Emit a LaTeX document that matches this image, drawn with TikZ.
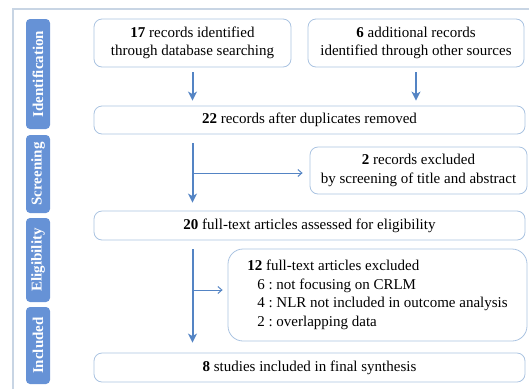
\documentclass[tikz,border=0pt]{standalone}
\usepackage{fontspec}
\setmainfont{Liberation Serif}
\usetikzlibrary{arrows.meta}
\definecolor{mblue}{RGB}{84,132,196}
\definecolor{sblue}{RGB}{102,146,214}
\definecolor{bord}{RGB}{170,195,225}
\definecolor{frame}{RGB}{200,213,228}
\tikzset{
  x=1pt,y=-1pt,
  box/.style={draw=bord,line width=0.8pt,rounded corners=8pt,align=center,inner sep=0pt,
    font=\fontsize{15pt}{18.5pt}\selectfont},
  side/.style={fill=sblue,rounded corners=4pt,text=white,rotate=90,inner sep=0pt,
    font=\fontsize{15pt}{17pt}\selectfont\bfseries},
  mainarrow/.style={draw=mblue,line width=2pt,-{Stealth[length=9pt,width=9pt,inset=2.5pt]}},
  sidearrow/.style={draw=mblue,line width=1pt,-{Straight Barb[length=4pt,width=7pt]}}
}
\begin{document}
\begin{tikzpicture}
\frenchspacing
\useasboundingbox (0,0) rectangle (529,389);
\draw[frame,line width=1.5pt] (13,389) -- (13,9) -- (529,9);
% side labels
\node[side,minimum width=110pt,minimum height=24pt] (sid) at (38,74) {Identification};
\node[side,minimum width=78pt,minimum height=24pt] (sscr) at (38,174) {Screening};
\node[side,minimum width=84pt,minimum height=24pt] (selg) at (38,260) {Eligibility};
\node[side,minimum width=77pt,minimum height=24pt] (sinc) at (38,345.5) {Included};
% boxes
\node[box,minimum width=197pt,minimum height=48pt] (b17) at (192.5,43) {\textbf{17} records identified\\through database searching};
\node[box,minimum width=216pt,minimum height=48pt] (b6) at (416,43) {\textbf{6} additional records\\identified through other sources};
\node[box,minimum width=431pt,minimum height=28pt] (b22) at (309.5,120) {\textbf{22} records after duplicates removed};
\node[box,minimum width=217pt,minimum height=47pt] (b2) at (418.5,170.5) {\textbf{2} records excluded\\by screening of title and abstract};
\node[box,minimum width=431pt,minimum height=29pt] (b20) at (309.5,225.5) {\textbf{20} full-text articles assessed for eligibility};
\node[box,rounded corners=15pt,minimum width=299pt,minimum height=92pt,align=left] (b12) at (377.5,295)
  {\textbf{12} full-text articles excluded\\
   \hspace*{10pt}6 : not focusing on CRLM\\
   \hspace*{10pt}4 : NLR not included in outcome analysis\\
   \hspace*{10pt}2 : overlapping data};
\node[box,minimum width=431pt,minimum height=29pt] (b8) at (309.5,367.5) {\textbf{8} studies included in final synthesis};
% arrows
\draw[mainarrow,shorten <=5pt,shorten >=5pt] (b17.south) -- (b17.south |- b22.north);
\draw[mainarrow,shorten <=5pt,shorten >=5pt] (b6.south) -- (b6.south |- b22.north);
\draw[mainarrow,shorten <=9pt,shorten >=8pt] (b17.south |- b22.south) -- (b17.south |- b20.north);
\coordinate (br1) at (193,173);
\draw[sidearrow,shorten >=7pt] (br1) -- (b2.west |- br1);
\draw[mainarrow,shorten <=9pt,shorten >=10pt] (b17.south |- b20.south) -- (b17.south |- b8.north);
\coordinate (br2) at (193,290);
\draw[sidearrow,shorten >=5pt] (br2) -- (b12.west |- br2);
\end{tikzpicture}
\end{document}
